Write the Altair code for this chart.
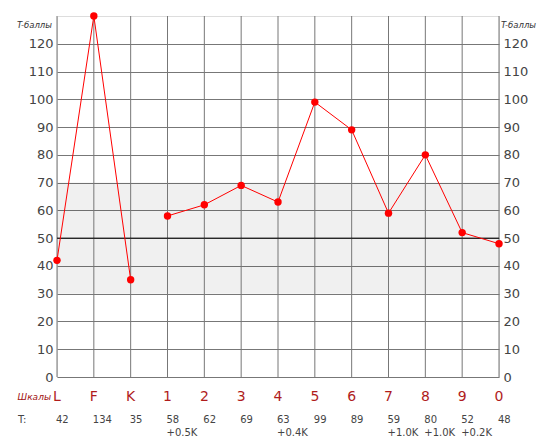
import altair as alt
import pandas as pd

scales = ["L", "F", "K", "1", "2", "3", "4", "5", "6", "7", "8", "9", "0"]
t_values = [42, 134, 35, 58, 62, 69, 63, 99, 89, 59, 80, 52, 48]
corrections = ["", "", "", "+0.5K", "", "", "+0.4K", "", "", "+1.0K", "+1.0K", "+0.2K", ""]
groups = ["val", "val", "val", "clin", "clin", "clin", "clin", "clin", "clin", "clin", "clin", "clin", "clin"]
y_ticks = list(range(0, 121, 10))
band = [30, 70]
mid_line = [50]
y_max = 130

df = pd.DataFrame({
    "idx": list(range(len(scales))),
    "scale": scales,
    "t": t_values,
    "tlabel": [str(v) for v in t_values],
    "corr": corrections,
    "grp": groups,
})

W, H = 442, 361
font = "DejaVu Sans"

xs = alt.Scale(domain=[0, len(scales) - 1], nice=False, padding=0)
ys = alt.Scale(domain=[0, y_max], nice=False)

base = alt.Chart(df)

band_df = pd.DataFrame({"y": [band[0]], "y2": [band[1]], "x": [0], "x2": [len(scales) - 1]})
band_layer = alt.Chart(band_df).mark_rect(color="black", opacity=0.06).encode(
    x=alt.X("x:Q", scale=xs, axis=None),
    x2="x2:Q",
    y=alt.Y("y:Q", scale=ys, axis=alt.Axis(values=y_ticks, orient="left", grid=True, gridColor="#777",
                                            labelFontSize=13, labelColor="#444", labelFont=font,
                                            domain=False, ticks=False, labelPadding=4, title=None)),
    y2="y2:Q",
)

right_axis = alt.Chart(band_df).mark_rect(opacity=0).encode(
    x=alt.X("x:Q", scale=xs, axis=None),
    x2="x2:Q",
    y=alt.Y("y:Q", scale=ys, axis=alt.Axis(values=y_ticks, orient="right", grid=False,
                                            labelFontSize=13, labelColor="#444", labelFont=font,
                                            domain=False, ticks=False, labelPadding=4, title=None)),
    y2="y2:Q",
)

vgrid = base.mark_rule(color="#777", strokeWidth=1).encode(
    x=alt.X("idx:Q", scale=xs, axis=None),
)

mid_df = pd.DataFrame({"y": mid_line})
mid = alt.Chart(mid_df).mark_rule(color="black", strokeWidth=1).encode(
    y=alt.Y("y:Q", scale=ys, axis=None)
)

plot_df_t = "min(datum.t, %d)" % y_max
line = base.transform_calculate(tp=plot_df_t).mark_line(color="red", strokeWidth=1).encode(
    x=alt.X("idx:Q", scale=xs, axis=None),
    y=alt.Y("tp:Q", scale=ys, axis=None),
    detail="grp:N",
)
pts = base.transform_calculate(tp=plot_df_t).mark_circle(color="red", size=55, opacity=1).encode(
    x=alt.X("idx:Q", scale=xs, axis=None),
    y=alt.Y("tp:Q", scale=ys, axis=None),
)

cat_labels = base.mark_text(font=font, fontSize=14, color="#b01c1c", align="center", baseline="middle").encode(
    x=alt.X("idx:Q", scale=xs, axis=None),
    y=alt.value(381),
    text="scale:N",
)
t_labels = base.mark_text(font=font, fontSize=10, color="#444", align="left", baseline="middle", dx=-1).encode(
    x=alt.X("idx:Q", scale=xs, axis=None),
    y=alt.value(403.5),
    text="tlabel:N",
)
corr_labels = base.mark_text(font=font, fontSize=10, color="#444", align="left", baseline="middle", dx=-1).encode(
    x=alt.X("idx:Q", scale=xs, axis=None),
    y=alt.value(416.5),
    text="corr:N",
)

one = pd.DataFrame({"a": [0]})
shkaly = alt.Chart(one).mark_text(text="Шкалы", font=font, fontSize=9, fontStyle="italic",
                                  color="#a01010", align="right", baseline="middle").encode(
    x=alt.value(-6), y=alt.value(381))
tcol = alt.Chart(one).mark_text(text="T:", font=font, fontSize=10, color="#444",
                                align="left", baseline="middle").encode(
    x=alt.value(-39), y=alt.value(403.5))
tb_left = alt.Chart(one).mark_text(text="T-баллы", font=font, fontSize=8.5, fontStyle="italic",
                                   color="#333", align="right", baseline="middle").encode(
    x=alt.value(-5), y=alt.value(9))
tb_right = alt.Chart(one).mark_text(text="T-баллы", font=font, fontSize=8.5, fontStyle="italic",
                                    color="#333", align="left", baseline="middle").encode(
    x=alt.value(444), y=alt.value(9))

chart = alt.layer(
    band_layer, right_axis, vgrid, mid, line, pts, cat_labels, t_labels, corr_labels,
    shkaly, tcol, tb_left, tb_right
).resolve_axis(y="independent").properties(
    width=W, height=H,
    autosize=alt.AutoSizeParams(type="none"),
    padding={"left": 57, "top": 16, "right": 51, "bottom": 70},
).configure_view(stroke="#222", strokeWidth=1).configure(background="white")

chart.save("out.html", embed_options={"renderer": "svg", "actions": False})
